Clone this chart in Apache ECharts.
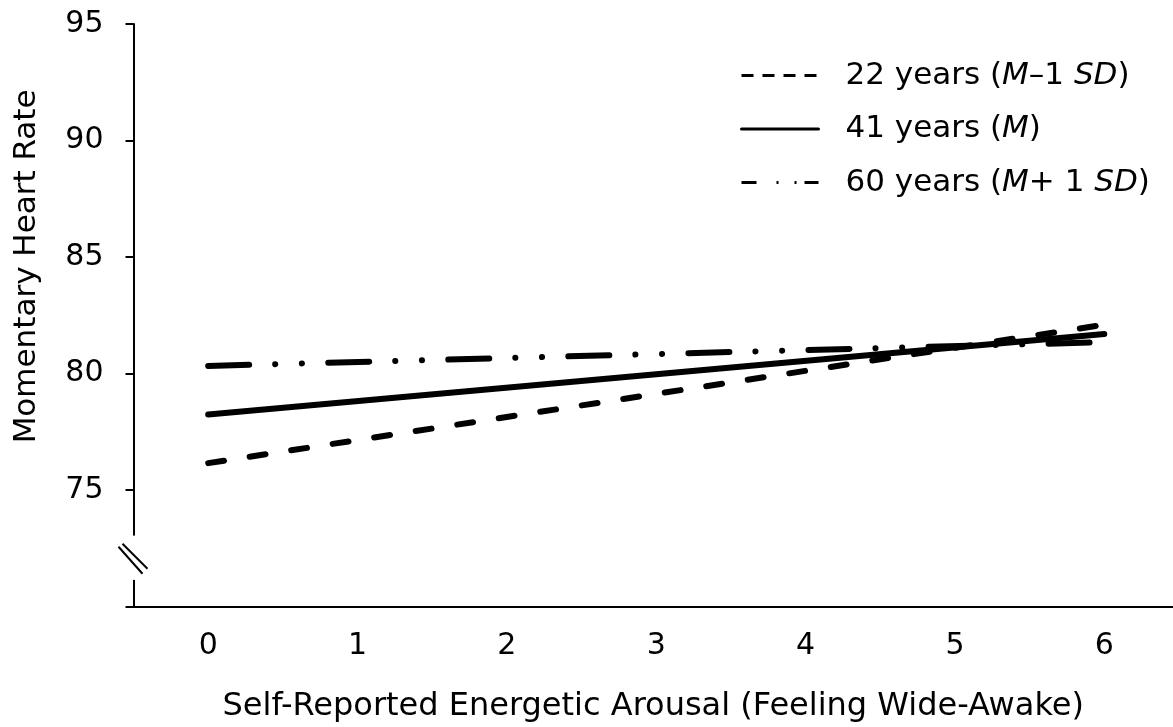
<!DOCTYPE html>
<html>
<head>
<meta charset="utf-8">
<script src="https://cdn.jsdelivr.net/npm/echarts@6/dist/echarts.min.js"></script>
<style>
html,body{margin:0;padding:0;background:#fff;}
#chart{width:1173px;height:727px;}
</style>
</head>
<body>
<div id="chart"></div>
<script>
// ---- data ----
const arousalX = [0, 6];
const hr22 = [76.16, 82.1];
const hr41 = [78.25, 81.7];
const hr60 = [80.33, 81.35];
const seriesNames = ['22 years (M–1 SD)', '41 years (M)', '60 years (M+ 1 SD)'];
const xTicks = [0, 1, 2, 3, 4, 5, 6];
const yTicks = [70, 75, 80, 85, 90, 95];
const xTitle = 'Self-Reported Energetic Arousal (Feeling Wide-Awake)';
const yTitle = 'Momentary Heart Rate';

const FONT = 'DejaVu Sans';
const chart = echarts.init(document.getElementById('chart'));

function pairs(ys) { return arousalX.map((x, i) => [x, ys[i]]); }

const richStyles = {
  n: { fontFamily: FONT, fontSize: 31, color: '#000', lineHeight: 31 },
  i: { fontFamily: FONT, fontSize: 31, color: '#000', lineHeight: 31, fontStyle: 'italic' }
};
const legendRich = {
  [seriesNames[0]]: '{n|22 years (}{i|M}{n|–1 }{i|SD}{n|)}',
  [seriesNames[1]]: '{n|41 years (}{i|M}{n|)}',
  [seriesNames[2]]: '{n|60 years (}{i|M}{n|+ 1 }{i|SD}{n|)}'
};
const hidden = { opacity: 0, borderWidth: 0 };

const option = {
  animation: false,
  backgroundColor: '#fff',
  grid: { left: 133.5, top: 24, right: 0, bottom: 120.3, containLabel: false, outerBoundsMode: 'none' },
  legend: {
    orient: 'vertical',
    left: 740,
    top: 60,
    padding: 0,
    itemWidth: 77,
    itemHeight: 14,
    itemGap: 22.5,
    formatter: name => legendRich[name],
    textStyle: { padding: [0, 0, 0, 22], rich: richStyles, fontFamily: FONT, fontSize: 31, color: '#000' },
    data: [
      { name: seriesNames[0], itemStyle: hidden, lineStyle: { width: 3, type: [12, 9], cap: 'butt', color: '#000' } },
      { name: seriesNames[1], itemStyle: hidden, lineStyle: { width: 3, type: 'solid', color: '#000' } },
      { name: seriesNames[2], itemStyle: hidden, lineStyle: { width: 3, type: [15, 20, 2, 16, 2, 8, 14, 20], cap: 'butt', color: '#000' } }
    ]
  },
  xAxis: {
    type: 'value',
    min: -0.5,
    max: 6.46,
    axisLine: { show: true, onZero: false, lineStyle: { color: '#000', width: 2 } },
    axisTick: { show: false },
    splitLine: { show: false },
    axisLabel: {
      customValues: xTicks,
      fontFamily: FONT, fontSize: 30, color: '#000', margin: 25
    },
    name: xTitle,
    nameLocation: 'middle',
    nameGap: 84,
    nameTextStyle: { fontFamily: FONT, fontSize: 32, color: '#000' }
  },
  yAxis: {
    type: 'value',
    min: 70,
    max: 95,
    interval: 5,
    axisLine: { show: true, onZero: false, lineStyle: { color: '#000', width: 2 } },
    axisTick: { show: true, length: 8, lineStyle: { color: '#000', width: 2 } },
    splitLine: { show: false },
    axisLabel: {
      fontFamily: FONT, fontSize: 30, color: '#000', margin: 30,
      formatter: v => (v === yTicks[0] ? '' : String(v))
    }
  },
  series: [
    {
      name: seriesNames[0], type: 'line', data: pairs(hr22), symbol: 'none',
      lineStyle: { color: '#000', width: 6, type: [16, 26], cap: 'round' },
      itemStyle: { color: '#000' }
    },
    {
      name: seriesNames[1], type: 'line', data: pairs(hr41), symbol: 'none',
      lineStyle: { color: '#000', width: 6, type: 'solid', cap: 'round' },
      itemStyle: { color: '#000' }
    },
    {
      name: seriesNames[2], type: 'line', data: pairs(hr60), symbol: 'none',
      lineStyle: { color: '#000', width: 6, type: [41, 26, 0.1, 26.6, 0.1, 26.3], cap: 'round' },
      itemStyle: { color: '#000' }
    }
  ]
};
chart.setOption(option);

// axis break marker and rotated y title, positioned through the axes
const axX = chart.convertToPixel({ gridIndex: 0 }, [-0.5, 72.1]);
const gapTop = chart.convertToPixel({ gridIndex: 0 }, [-0.5, 73.05])[1];
const gapBot = chart.convertToPixel({ gridIndex: 0 }, [-0.5, 71.15])[1];
const titleY = chart.convertToPixel({ gridIndex: 0 }, [-0.5, 84.6])[1];
const cx = axX[0], cy = axX[1];
chart.setOption({
  graphic: [
    { type: 'rect', shape: { x: cx - 4, y: gapTop, width: 8, height: gapBot - gapTop }, style: { fill: '#fff' }, z: 100 },
    { type: 'line', shape: { x1: cx - 15, y1: cy - 11, x2: cx + 9, y2: cy + 16 }, style: { stroke: '#000', lineWidth: 2 }, z: 101 },
    { type: 'line', shape: { x1: cx - 11, y1: cy - 14, x2: cx + 14, y2: cy + 11 }, style: { stroke: '#000', lineWidth: 2 }, z: 101 },
    { type: 'text', x: 27, y: titleY, rotation: Math.PI / 2,
      style: { text: yTitle, font: '31px "DejaVu Sans"', fill: '#000', align: 'center', verticalAlign: 'middle' } }
  ]
});
</script>
</body>
</html>
